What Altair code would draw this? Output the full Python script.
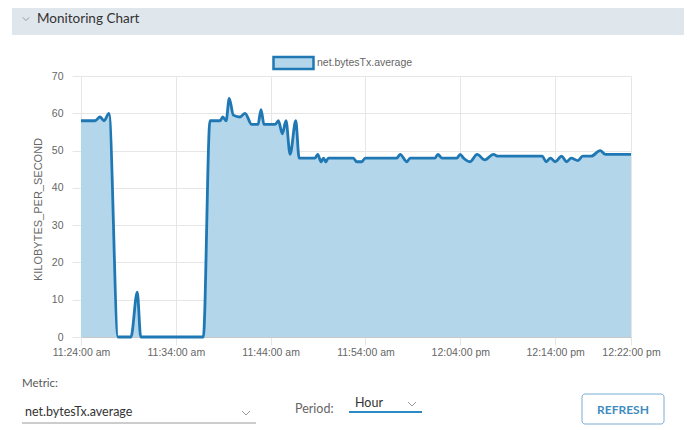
import altair as alt
import pandas as pd

# ---- data ----
times = [
    "11:24:00", "11:25:29", "11:26:00", "11:26:26", "11:26:57", "11:27:54",
    "11:29:16", "11:29:56", "11:30:18", "11:36:54", "11:37:36", "11:38:40",
    "11:38:57", "11:39:18", "11:39:38", "11:40:04", "11:40:46", "11:41:18",
    "11:42:00", "11:42:40", "11:42:59", "11:43:18", "11:44:28", "11:44:49",
    "11:45:14", "11:45:37", "11:46:03", "11:46:39", "11:47:00", "11:48:41",
    "11:48:58", "11:49:19", "11:49:34", "11:49:49", "11:50:05", "11:52:43",
    "11:53:05", "11:53:37", "11:53:58", "11:57:18", "11:57:39", "11:58:22",
    "11:58:42", "12:01:20", "12:01:38", "12:02:03", "12:03:38", "12:03:59",
    "12:04:20", "12:05:02", "12:05:46", "12:06:35", "12:07:30", "12:07:54",
    "12:12:39", "12:13:03", "12:13:30", "12:14:00", "12:14:42", "12:15:12",
    "12:15:42", "12:16:24", "12:16:54", "12:17:48", "12:18:45", "12:19:18",
    "12:22:00",
]
kbps = [
    58, 58, 59, 58, 60, 0,
    0, 12, 0, 0, 58, 58,
    59, 58, 64, 59.5, 59, 60,
    57, 57, 61, 57, 57, 58,
    54.5, 58, 49, 58, 48, 48,
    49, 47, 48, 47, 48, 48,
    47, 47, 48, 48, 49, 47,
    48, 48, 49, 48, 48, 49,
    48, 47, 49, 47.5, 49, 48.5,
    48.5, 47, 48, 47, 48.5, 47,
    48, 47.3, 48.5, 48.5, 50, 49,
    49,
]
series_name = "net.bytesTx.average"
y_title = "KILOBYTES_PER_SECOND"
y_ticks = [0, 10, 20, 30, 40, 50, 60, 70]
x_ticks = ["11:24:00", "11:34:00", "11:44:00", "11:54:00", "12:04:00", "12:14:00", "12:22:00"]

header_title = "Monitoring Chart"
metric_label = "Metric:"
metric_value = "net.bytesTx.average"
period_label = "Period:"
period_value = "Hour"
button_text = "REFRESH"

# ---- styles ----
LINE = "#1f78b4"
FILL = "#b3d6ea"
GRID = "#e6e6e6"
LABEL = "#666666"
AXFONT = "Liberation Sans"
UIFONT = "Lato"
DAY = "2024-01-01T"

df = pd.DataFrame({"time": [DAY + t for t in times], "value": kbps, "series": series_name})


def dt(t):
    h, m, s = (int(v) for v in t.split(":"))
    return alt.DateTime(year=2024, month=1, date=1, hours=h, minutes=m, seconds=s)


x_enc = alt.X(
    "time:T",
    scale=alt.Scale(domain=[dt(x_ticks[0]), dt(x_ticks[-1])]),
    axis=alt.Axis(
        values=[dt(t) for t in x_ticks],
        labelExpr="lower(timeFormat(datum.value, '%-I:%M:%S %p'))",
        title=None, grid=True, gridColor=GRID, tickColor=GRID, tickSize=8,
        labelPadding=2, domainColor="#c8c8c8", labelFont=AXFONT, labelFontSize=10.5,
        labelColor=LABEL, labelOverlap=False, labelFlush=False,
    ),
)
y_enc = alt.Y(
    "value:Q",
    scale=alt.Scale(domain=[0, 70], nice=False),
    axis=alt.Axis(
        values=y_ticks, tickCount=len(y_ticks), title=y_title, titleFont=AXFONT,
        titleFontSize=11, titleFontWeight="normal", titleColor=LABEL, titleAngle=270,
        titleX=-43, titleY=133, titleAlign="center", titleBaseline="middle",
        domain=False, grid=True, gridColor=GRID, tickColor=GRID, tickSize=9,
        labelPadding=9, labelFont=AXFONT, labelFontSize=10.5, labelColor=LABEL,
        labelOverlap=False, labelFlush=False,
    ),
)

area = alt.Chart(df).mark_area(interpolate="monotone", opacity=1).encode(
    x=x_enc, y=y_enc,
    color=alt.Color(
        "series:N",
        scale=alt.Scale(domain=[series_name], range=[FILL]),
        legend=alt.Legend(
            title=None, orient="none", legendX=191, legendY=-34.5, direction="horizontal",
            symbolType="M-1,-0.3H1V0.3H-1Z", symbolSize=1600, symbolStrokeColor=LINE,
            symbolStrokeWidth=2.5, symbolFillColor=FILL, symbolOpacity=1,
            labelFont=AXFONT, labelFontSize=10.5, labelColor=LABEL, labelOffset=2, padding=0,
        ),
    ),
)
line = alt.Chart(df).mark_line(interpolate="monotone", color=LINE, strokeWidth=2.8).encode(
    x=x_enc, y=y_enc
)

one = alt.Data(values=[{}])


def rect(x, x2, y, y2, **kw):
    return alt.Chart(one).mark_rect(**kw).encode(
        x=alt.value(x), x2=alt.value(x2), y=alt.value(y), y2=alt.value(y2))


def text(s, x, y, **kw):
    return alt.Chart(one).mark_text(text=s, baseline="middle", **kw).encode(
        x=alt.value(x), y=alt.value(y))


def chevron(x, y, size, color="#9a9a9a"):
    return alt.Chart(one).mark_point(
        shape="M-1,-0.5L0,0.5L1,-0.5", filled=False, color=color, strokeWidth=1,
        size=size, opacity=1).encode(x=alt.value(x), y=alt.value(y))


def hrule(x, x2, y, color, width):
    return alt.Chart(one).mark_rule(color=color, strokeWidth=width).encode(
        x=alt.value(x), x2=alt.value(x2), y=alt.value(y))


decor = [
    rect(-69, 603, -68, -41, color="#dfe6ec"),
    chevron(-55, -57, 40),
    text(header_title, -44, -57, align="left", font=UIFONT, fontSize=13.5, color="#333333"),
    text(metric_label, -59, 308, align="left", font=UIFONT, fontSize=11.5, color="#565656"),
    text(metric_value, -56, 336, align="left", font=UIFONT, fontSize=12.5, color="#333333"),
    hrule(-59, 175, 347, "#9a9a9a", 1),
    chevron(165, 337, 64),
    text(period_label, 214, 333, align="left", font=UIFONT, fontSize=12.5, color="#666666"),
    text(period_value, 274, 327, align="left", font=UIFONT, fontSize=12.5, color="#333333"),
    chevron(331, 328, 64),
    hrule(268, 341, 336, "#2b8ac6", 2),
    rect(501, 583, 318, 348, fill="white", stroke="#79aed2", strokeWidth=1, cornerRadius=3),
    text(button_text, 542, 334, align="center", font=UIFONT, fontSize=12, fontWeight="bold",
         color="#3f8dc0"),
]

chart = alt.layer(*decor[:3], area, line, *decor[3:]).properties(
    width=550, height=261, autosize="none",
    padding={"left": 73, "top": 68, "right": 57, "bottom": 93},
).configure_view(stroke=None)

chart.save("out.html", embed_options={"renderer": "svg", "actions": False})
